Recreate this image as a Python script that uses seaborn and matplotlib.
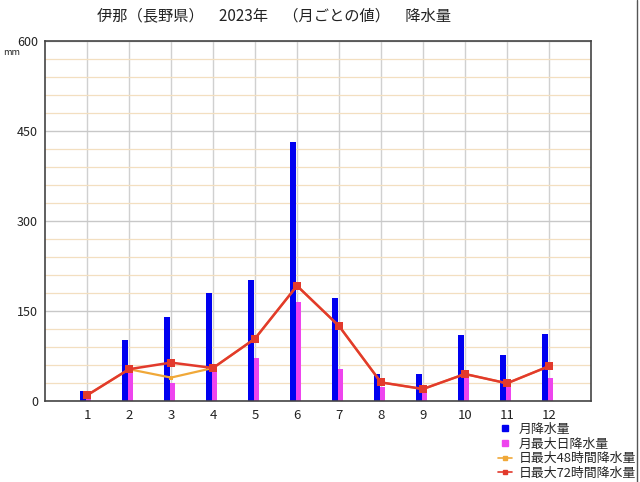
import seaborn as sns
import matplotlib.pyplot as plt
import pandas as pd
from matplotlib.lines import Line2D
from matplotlib.ticker import MultipleLocator

# 伊那 2023 monthly precipitation (mm)
months = list(range(1, 13))
monthly_total = [17, 101, 140, 180, 202, 431, 172, 45, 45, 110, 77, 112]
max_daily = [8, 50, 30, 53, 71, 165, 53, 23, 20, 38, 30, 38]
max_48h = [9.5, 53, 39, 55, 104, 192, 125, 31, 20, 45, 29.5, 58]
max_72h = [9.5, 53, 64, 55, 104, 192, 125, 31, 20, 45, 29.5, 58]

series_labels = ["月降水量", "月最大日降水量", "日最大48時間降水量", "日最大72時間降水量"]
title = "伊那（長野県）　2023年　（月ごとの値）　降水量"

blue = "#0000f0"
magenta = "#ee44ee"
orange = "#f0a838"
red = "#e23a2c"

sns.set_theme(style="white")
plt.rcParams["font.family"] = ["Noto Sans CJK JP", "DejaVu Sans"]

bars = pd.DataFrame({
    "month": months * 2,
    "value": monthly_total + max_daily,
    "series": [series_labels[0]] * 12 + [series_labels[1]] * 12,
})

fig = plt.figure(figsize=(6.4, 4.82), dpi=100)
ax = fig.add_axes([45 / 640, 1 - 401 / 482, 546 / 640, 360 / 482])

sns.barplot(data=bars, x="month", y="value", hue="series", native_scale=True,
            width=0.26, palette=[blue, magenta], saturation=1, errorbar=None,
            legend=False, ax=ax, linewidth=0)
for p in ax.patches:
    p.set_x(p.get_x() - 0.03)

sns.lineplot(x=months, y=max_48h, color=orange, marker="s", markersize=3.5,
             markeredgewidth=0, linewidth=1.6, ax=ax)
sns.lineplot(x=months, y=max_72h, color=red, marker="s", markersize=5.5,
             markeredgewidth=0, linewidth=1.8, ax=ax)

ax.set_xlim(0, 13)
ax.set_ylim(0, 600)
ax.set_xticks(months)
ax.set_xticklabels([str(m) for m in months])
ax.set_yticks([0, 150, 300, 450, 600])
ax.yaxis.set_minor_locator(MultipleLocator(30))
ax.set_axisbelow(True)
ax.xaxis.grid(True, which="major", color="#d0d0d0", linewidth=1.0)
ax.yaxis.grid(True, which="minor", color="#f3dfc0", linewidth=0.9)
ax.yaxis.grid(True, which="major", color="#c8c8c8", linewidth=1.0)
ax.tick_params(which="both", length=0, colors="#222222")
ax.tick_params(axis="x", pad=6, labelsize=9.5)
ax.tick_params(axis="y", pad=5, labelsize=9)
ax.set_xlabel("")
ax.set_ylabel("")
for s in ax.spines.values():
    s.set_color("#444444")
    s.set_linewidth(1.2)

fig.text(97 / 640, 1 - 16 / 482, title, fontsize=11, ha="left", va="center", color="#222222")
fig.text(3 / 640, 1 - 52 / 482, "mm", fontsize=6.5, ha="left", va="center", color="#222222")

handles = [
    Line2D([], [], color=blue, marker="s", linestyle="none", markersize=5),
    Line2D([], [], color=magenta, marker="s", linestyle="none", markersize=5),
    Line2D([], [], color=orange, marker="s", markersize=2.5, linewidth=1.2),
    Line2D([], [], color=red, marker="s", markersize=2.5, linewidth=1.2),
]
fig.legend(handles, series_labels, loc="upper left", bbox_to_anchor=(498 / 640, 1 - 423 / 482),
           frameon=False, fontsize=9.3, handlelength=1.1, handletextpad=0.5,
           labelspacing=0.12, borderpad=0, borderaxespad=0)

fig.add_artist(Line2D([637 / 640, 637 / 640], [0, 1], color="#555555", linewidth=1))

fig.savefig("out.png", dpi=100)
plt.close(fig)
